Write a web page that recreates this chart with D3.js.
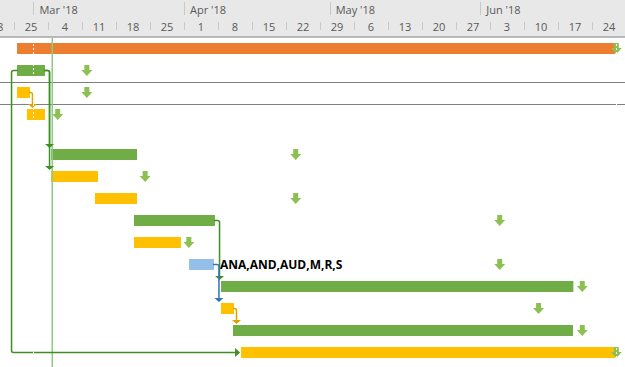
<!DOCTYPE html>
<html lang="en">
<head>
<meta charset="UTF-8">
<title>Project Gantt</title>
<style>
  html, body { margin: 0; padding: 0; background: #fff; overflow: hidden; }
  svg { display: block; font-family: "Segoe UI", "Open Sans", "Noto Sans", sans-serif; }
  .hdr text { fill: #595959; font-size: 11px; }
  .sep { stroke: #c8c8c8; stroke-width: 1; }
  .res { font-size: 12px; font-weight: bold; fill: #000; }
</style>
</head>
<body>
<div id="gantt"></div>
<script src="https://d3js.org/d3.v7.min.js"></script>
<script>
// task table (row order top to bottom)
const taskKinds = ["summary", "green", "yellow", "yellow", "green", "yellow", "yellow",
                   "green", "yellow", "blue", "green", "yellow", "green", "yellow"];
const taskStarts = ["2018-02-25 15:00", "2018-02-25 15:00", "2018-02-25 15:00", "2018-02-27 16:00",
                    "2018-03-04 15:00", "2018-03-04 15:00", "2018-03-13 16:00", "2018-03-21 17:00",
                    "2018-03-21 17:00", "2018-04-02 01:00", "2018-04-08 15:00", "2018-04-08 15:00",
                    "2018-04-11 02:00", "2018-04-12 18:00"];
const taskFinishes = ["2018-06-28 18:00", "2018-03-03 09:00", "2018-02-28 07:00", "2018-03-03 09:00",
                      "2018-03-22 08:00", "2018-03-14 07:00", "2018-03-22 08:00", "2018-04-07 09:00",
                      "2018-03-31 09:00", "2018-04-07 04:00", "2018-06-20 04:00", "2018-04-11 07:00",
                      "2018-06-20 02:00", "2018-06-28 18:00"];
const taskDeadlines = ["2018-06-29", "2018-03-12", "2018-03-12", "2018-03-06", "2018-04-24",
                       "2018-03-24", "2018-04-24", "2018-06-05", "2018-04-02", "2018-06-05",
                       "2018-06-22", "2018-06-13", "2018-06-22", "2018-06-29"];
const resourceNames = ["", "", "", "", "", "", "", "", "", "ANA,AND,AUD,M,R,S", "", "", "", ""];

// dependencies (row index -> row index)
const links = [
  { from: 1, to: 4, type: "FS" },
  { from: 1, to: 5, type: "FS" },
  { from: 1, to: 13, type: "SS" },
  { from: 2, to: 3, type: "FS" },
  { from: 7, to: 10, type: "FS" },
  { from: 9, to: 11, type: "FS" },
  { from: 11, to: 12, type: "FS" }
];

const projectStart = "2018-03-01";
const projectFinish = "2018-06-29";
const statusDate = "2018-03-04 21:00";
const selectedRow = 2;

const W = 625, H = 367, headerH = 37;
const barColor = { summary: "#ed7d31", green: "#70ad47", yellow: "#ffc000", blue: "#94bfe8" };
const linkColor = { green: "#3f8f1f", yellow: "#e3a000", blue: "#2e75b6" };

const parseDT = d3.utcParse("%Y-%m-%d %H:%M");
const parseD = d3.utcParse("%Y-%m-%d");
const toDate = s => parseDT(s) || parseD(s);

const tasks = taskKinds.map((k, i) => ({
  i, kind: k,
  start: toDate(taskStarts[i]),
  finish: toDate(taskFinishes[i]),
  deadline: toDate(taskDeadlines[i]),
  res: resourceNames[i]
}));

// 34px per week, Sunday Feb 25 at x=14
const x = d3.scaleUtc()
  .domain([parseD("2018-02-25"), parseD("2018-06-24")])
  .range([14, 14 + 17 * 34]);
// row centres (row 4 sits in a taller row)
const y = d3.scaleLinear().domain([0, 3, 4, 13]).range([48.5, 114.5, 154.5, 352.5]);
const barH = 11;

const svg = d3.select("#gantt").append("svg")
  .attr("width", W).attr("height", H);

// ---- timescale header
const hdr = svg.append("g").attr("class", "hdr");
hdr.append("rect").attr("width", W).attr("height", headerH).attr("fill", "#e8e8e8");

const t0 = x.invert(-40), t1 = x.invert(W);
const months = d3.utcMonth.range(d3.utcMonth.ceil(x.invert(0)), t1);
const weeks = d3.utcSunday.range(d3.utcSunday.floor(t0), t1);
const fmtMonth = d3.utcFormat("%b '%y");
const fmtDay = d3.utcFormat("%-d");

hdr.selectAll(".msep").data(months).join("line")
  .attr("class", "sep")
  .attr("x1", d => Math.round(x(d)) + 0.5).attr("x2", d => Math.round(x(d)) + 0.5)
  .attr("y1", 2).attr("y2", 15);
hdr.selectAll(".mlab").data(months).join("text")
  .attr("x", d => x(d) + 6).attr("y", 14)
  .text(d => fmtMonth(d));

hdr.selectAll(".wsep").data(weeks).join("line")
  .attr("class", "sep")
  .attr("x1", d => Math.round(x(d)) + 0.5).attr("x2", d => Math.round(x(d)) + 0.5)
  .attr("y1", 22).attr("y2", 30);
hdr.selectAll(".wlab").data(weeks).join("text")
  .attr("x", d => (x(d) + x(d3.utcSunday.offset(d, 1))) / 2).attr("y", 31)
  .attr("text-anchor", "middle")
  .text(d => fmtDay(d));

hdr.append("line")
  .attr("x1", 0).attr("x2", W).attr("y1", 37).attr("y2", 37)
  .attr("stroke", "#a6a6a6").attr("stroke-width", 1.5);

// ---- project start / finish dotted lines (gray part, behind bars)
const markers = [toDate(projectStart), toDate(projectFinish)];
svg.append("g").selectAll("line").data(markers).join("line")
  .attr("x1", d => Math.round(x(d)) + 0.5).attr("x2", d => Math.round(x(d)) + 0.5)
  .attr("y1", 40).attr("y2", H)
  .attr("stroke", "#8a8a8a").attr("stroke-dasharray", "2,2");

// ---- selected row borders
const selY = [(y(selectedRow - 1) + y(selectedRow)) / 2, (y(selectedRow) + y(selectedRow + 1)) / 2];
svg.append("g").selectAll("line").data(selY).join("line")
  .attr("x1", 0).attr("x2", W)
  .attr("y1", d => Math.round(d) + 0.5).attr("y2", d => Math.round(d) + 0.5)
  .attr("stroke", "#7f7f7f");

// ---- bars
svg.append("g").selectAll("rect").data(tasks).join("rect")
  .attr("x", d => x(d.start))
  .attr("y", d => y(d.i) - barH / 2)
  .attr("width", d => x(d.finish) - x(d.start))
  .attr("height", barH)
  .attr("fill", d => barColor[d.kind]);

// ---- deadline arrows
svg.append("g").selectAll("path").data(tasks).join("path")
  .attr("fill", "#8cc152")
  .attr("d", d => {
    const cx = x(d.deadline), top = y(d.i) - 5.5;
    return `M${cx - 2.5},${top} H${cx + 2.5} V${top + 5} H${cx + 5.5} L${cx},${top + 11} L${cx - 5.5},${top + 5} H${cx - 2.5} Z`;
  });

// ---- status date line
const sx = x(toDate(statusDate));
svg.append("line")
  .attr("x1", sx).attr("x2", sx).attr("y1", headerH + 1).attr("y2", H)
  .attr("stroke", "#8dcc86").attr("stroke-width", 1.5);

// ---- dependency links
const lg = svg.append("g").attr("fill", "none");
links.forEach(l => {
  const a = tasks[l.from], b = tasks[l.to];
  const col = linkColor[a.kind];
  const y0 = y(a.i);
  if (l.type === "FS") {
    const x0 = x(a.finish);
    const s = x(b.start);
    const vx = s > x0 ? Math.min(x0 + 5, s - 1.5) : x0 + 2.5;
    const tip = y(b.i) - barH / 2 - 1;
    lg.append("path")
      .attr("stroke", col).attr("stroke-width", 1.5)
      .attr("d", `M${x0 - 1},${y0} H${vx - 2} Q${vx},${y0} ${vx},${y0 + 2} V${tip - 4}`);
    lg.append("path")
      .attr("fill", col)
      .attr("d", `M${vx - 4.5},${tip - 4} H${vx + 4.5} L${vx},${tip} Z`);
  } else {
    const x0 = x(a.start);
    const lx = x0 - 5.5;
    const ty = y(b.i);
    const tx = x(b.start) - 1;
    lg.append("path")
      .attr("stroke", col).attr("stroke-width", 1.5)
      .attr("d", `M${x0 + 1},${y0} H${lx + 2} Q${lx},${y0} ${lx},${y0 + 2} V${ty - 2} Q${lx},${ty} ${lx + 2},${ty} H${tx - 5}`);
    lg.append("path")
      .attr("fill", col)
      .attr("d", `M${tx - 5},${ty - 4.5} V${ty + 4.5} L${tx},${ty} Z`);
  }
});

// ---- dotted lines, white part (shows over bars)
svg.append("g").selectAll("line").data(markers).join("line")
  .attr("x1", d => Math.round(x(d)) + 0.5).attr("x2", d => Math.round(x(d)) + 0.5)
  .attr("y1", 40).attr("y2", H)
  .attr("stroke", "#fff").attr("stroke-dasharray", "2,2");

// ---- resource labels
svg.append("g").selectAll("text").data(tasks.filter(d => d.res)).join("text")
  .attr("class", "res")
  .attr("x", d => x(d.finish) + 6)
  .attr("y", d => y(d.i) + 4.5)
  .text(d => d.res);
</script>
</body>
</html>
